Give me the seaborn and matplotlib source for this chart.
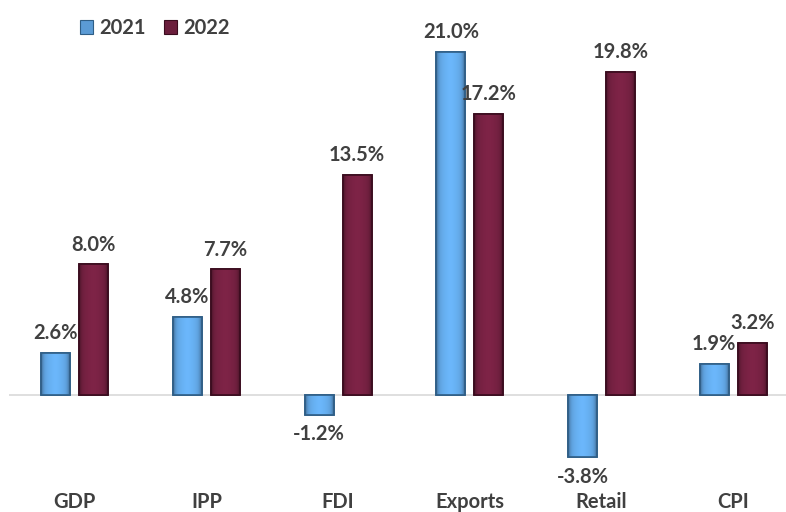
import numpy as np
import pandas as pd
import matplotlib
matplotlib.use("Agg")
import matplotlib.pyplot as plt
import matplotlib.colors as mcolors
import seaborn as sns

categories = ["GDP", "IPP", "FDI", "Exports", "Retail", "CPI"]
years = ["2021", "2022"]
values_2021 = [2.6, 4.8, -1.2, 21.0, -3.8, 1.9]
values_2022 = [8.0, 7.7, 13.5, 17.2, 19.8, 3.2]

df = pd.DataFrame({
    "category": categories * 2,
    "year": [years[0]] * len(categories) + [years[1]] * len(categories),
    "value": values_2021 + values_2022,
})

sns.set_theme(style="white")
plt.rcParams["font.family"] = ["Lato", "DejaVu Sans"]

colors = {"2021": "#5B9BD5", "2022": "#6B1E3C"}
edge_colors = {"2021": "#2F5E86", "2022": "#3A0C1E"}
text_color = "#404040"
fs = 14.5

fig = plt.figure(figsize=(7.86, 5.12), dpi=100)
ax = fig.add_axes([9 / 786, 22 / 512, 790 / 786, 490 / 512])

sns.barplot(data=df, x="category", y="value", hue="year", order=categories,
            hue_order=years, palette=colors, width=0.577, gap=0.24,
            errorbar=None, ax=ax, legend=False, saturation=1)

ax.set_xlim(-0.5, 5.5)
ax.set_ylim(-5.82, 24.19)

# bevel-like shading on each bar, derived from patch geometry
for container, yr in zip(ax.containers, years):
    base = np.array(mcolors.to_rgb(colors[yr]))
    for patch in container.patches:
        x0, y0 = patch.get_x(), patch.get_y()
        w, h = patch.get_width(), patch.get_height()
        t = np.linspace(0, 1, 60)
        shade = 1.0 + 0.18 * (1 - np.abs(2 * t - 1) ** 1.5) - 0.35 * (np.abs(2 * t - 1) ** 8)
        img = np.clip(base[None, None, :] * shade[None, :, None], 0, 1)
        im = ax.imshow(img, extent=[x0, x0 + w, y0, y0 + h], aspect="auto",
                       zorder=patch.get_zorder() + 0.1, interpolation="bicubic")
        im.set_clip_path(patch)
        patch.set_edgecolor(edge_colors[yr])
        patch.set_linewidth(1.2)
        outline = plt.Rectangle((x0, y0), w, h, fill=False,
                                edgecolor=edge_colors[yr], linewidth=1.2,
                                zorder=patch.get_zorder() + 0.2)
        ax.add_patch(outline)

ax.axhline(0, color="#D9D9D9", linewidth=1.2, zorder=0.5)

for container in ax.containers:
    labels = [f"{v:.1f}%" for v in container.datavalues]
    ax.bar_label(container, labels=labels, padding=7, fontsize=fs,
                 fontweight="bold", color=text_color)

ax.set_xlabel("")
ax.set_ylabel("")
ax.set_yticks([])
ax.tick_params(axis="x", length=0, pad=1.5, labelsize=fs, labelcolor=text_color)
for lab in ax.get_xticklabels():
    lab.set_fontweight("bold")
for s in ax.spines.values():
    s.set_visible(False)

handles = [plt.Rectangle((0, 0), 1, 1, facecolor=colors[y], edgecolor=edge_colors[y], linewidth=0.8)
           for y in years]
leg = fig.legend(handles, years, loc="upper left", bbox_to_anchor=(62 / 786, 1 - 0 / 512),
                 ncol=2, frameon=False, handlelength=0.65, handleheight=0.65,
                 handletextpad=0.3, columnspacing=0.9,
                 prop={"size": fs, "weight": "bold"})
for t in leg.get_texts():
    t.set_color(text_color)

fig.savefig("out.png", dpi=100)
